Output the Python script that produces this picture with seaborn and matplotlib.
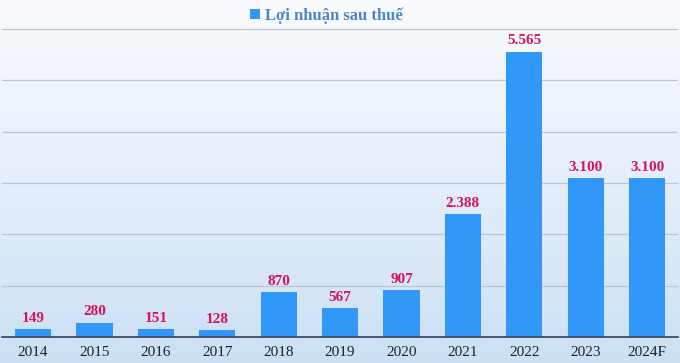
import numpy as np
import pandas as pd
import seaborn as sns
import matplotlib.pyplot as plt
from matplotlib.colors import LinearSegmentedColormap

years = ["2014", "2015", "2016", "2017", "2018", "2019", "2020",
         "2021", "2022", "2023", "2024F"]
profit = [149, 280, 151, 128, 870, 567, 907, 2388, 5565, 3100, 3100]
series_name = "Lợi nhuận sau thuế"

df = pd.DataFrame({"year": years, "profit": profit})

sns.set_style("white")
plt.rcParams["font.family"] = ["Liberation Serif", "DejaVu Serif"]

fig = plt.figure(figsize=(6.8, 3.63), dpi=100)

# gradient background
bg = fig.add_axes([0, 0, 1, 1], zorder=-10)
cmap = LinearSegmentedColormap.from_list("bg", ["#cbe0f5", "#e4eefa", "#fafbfe"])
grad = np.linspace(0, 1, 256).reshape(-1, 1)
bg.imshow(grad, aspect="auto", cmap=cmap, origin="lower", extent=[0, 1, 0, 1])
bg.axis("off")

ax = fig.add_axes([0.0034, 0.0716, 0.9935, 0.848])
ax.set_facecolor("none")
sns.barplot(data=df, x="year", y="profit", color="#3197f9", width=0.59,
            saturation=1, linewidth=0, ax=ax, label=series_name)

ax.set_ylim(0, 6000)
ax.set_yticks(range(0, 6001, 1000))
ax.yaxis.grid(True, color="#bcc5d1", linewidth=0.9)
ax.set_axisbelow(True)
ax.tick_params(axis="y", left=False, labelleft=False)
ax.tick_params(axis="x", bottom=False, labelsize=11, pad=3, colors="#222222")
ax.set_xlabel("")
ax.set_ylabel("")
for s in ["top", "right", "left"]:
    ax.spines[s].set_visible(False)
ax.spines["bottom"].set_color("#3a4250")
ax.spines["bottom"].set_linewidth(1.2)

labels = [f"{v:,}".replace(",", ".") for v in profit]
ax.bar_label(ax.containers[0], labels=labels, padding=3, color="#d5145a",
             fontsize=11, fontweight="bold")

leg = ax.legend(loc="upper center", bbox_to_anchor=(0.48, 1.12), frameon=False,
                handlelength=0.6, handleheight=0.6, handletextpad=0.3,
                prop={"size": 12, "weight": "bold"})
for t in leg.get_texts():
    t.set_color("#4a86c8")

fig.savefig("out.png", dpi=100)
